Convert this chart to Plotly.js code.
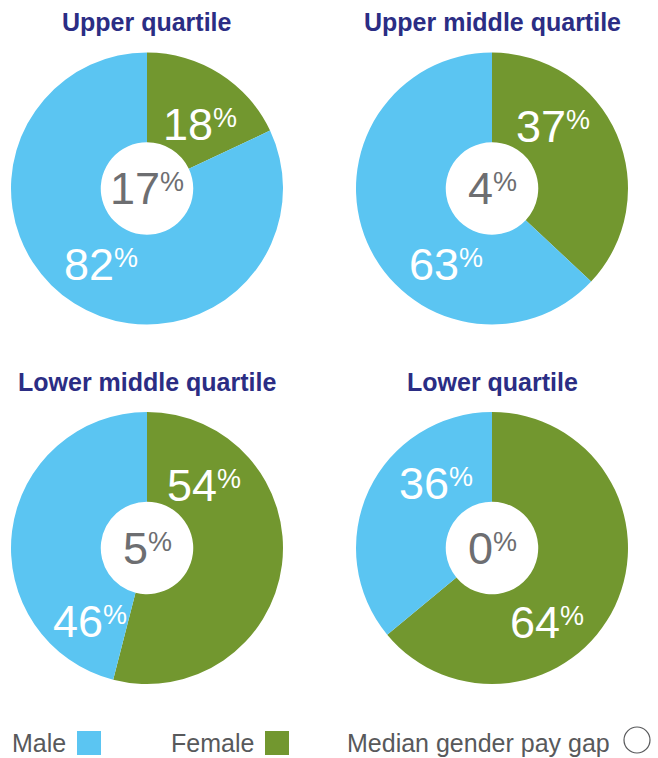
<!DOCTYPE html>
<html>
<head>
<meta charset="utf-8">
<script src="https://cdn.plot.ly/plotly-3.0.1.min.js"></script>
<style>html,body{margin:0;padding:0;background:#fff;}#chart{width:658px;height:758px;}</style>
</head>
<body>
<div id="chart"></div>
<script>
// ---- data ----
const quartiles = ['Upper quartile', 'Upper middle quartile', 'Lower middle quartile', 'Lower quartile'];
const malePct = [82, 63, 46, 36];
const femalePct = [18, 37, 54, 64];
const payGapPct = [17, 4, 5, 0];
const sliceLabels = ['Female', 'Male'];
const legendLabels = ['Male', 'Female', 'Median gender pay gap'];

// ---- styles / layout ----
const W = 658, H = 758;
const MALE = '#5bc5f2', FEMALE = '#72972f', NAVY = '#2b2d84', GREY = '#6d6e71', LEGTXT = '#58595b';
const FONT = '"Liberation Sans", Arial, Helvetica, sans-serif';
// pie boxes in px: [x0, x1, y0(top), y1(bottom)]
const pieBoxes = [[11, 283, 52, 325], [356, 628, 52, 325], [11, 283, 412, 684], [356, 628, 412, 684]];
// label offsets (px) from pie centre
const femaleOff = [[53, -64], [61, -62], [57, -63], [55, 74]];
const maleOff = [[-46, 76], [-46, 76], [-57, 73], [-56, -65]];
const titleOffsetY = 30;

const px2x = v => v / W;
const px2y = v => 1 - v / H;
// digits large, small raised % whose top lines up with the digit tops
const pct = (v, big, small) =>
  '<span style="font-size:' + big + 'px">' + v + '</span><sup><span style="font-size:' + small + 'px">%</span></sup>';
const BASE = 30; // base size controls the superscript raise

const data = [], annotations = [], shapes = [];
quartiles.forEach((q, i) => {
  const b = pieBoxes[i];
  data.push({
    type: 'pie',
    values: [femalePct[i], malePct[i]],
    labels: sliceLabels,
    sort: false,
    direction: 'clockwise',
    rotation: 0,
    hole: 0.34,
    textinfo: 'none',
    hoverinfo: 'label+value',
    showlegend: false,
    marker: {colors: [FEMALE, MALE], line: {width: 0}},
    domain: {x: [px2x(b[0]), px2x(b[1])], y: [px2y(b[3]), px2y(b[2])]}
  });
  const cx = (b[0] + b[1]) / 2, cy = (b[2] + b[3]) / 2;
  // title
  annotations.push({
    xref: 'paper', yref: 'paper', x: px2x(cx), y: px2y(b[2] - titleOffsetY),
    xanchor: 'center', yanchor: 'middle', showarrow: false,
    text: '<b>' + q + '</b>', font: {family: FONT, size: 25, color: NAVY}
  });
  // centre pay gap
  annotations.push({
    xref: 'paper', yref: 'paper', x: px2x(cx), y: px2y(cy),
    xanchor: 'center', yanchor: 'middle', showarrow: false,
    text: pct(payGapPct[i], 45, 27), font: {family: FONT, size: BASE, color: GREY}
  });
  // female label
  annotations.push({
    xref: 'paper', yref: 'paper', x: px2x(cx + femaleOff[i][0]), y: px2y(cy + femaleOff[i][1]),
    xanchor: 'center', yanchor: 'middle', showarrow: false,
    text: pct(femalePct[i], 45, 27), font: {family: FONT, size: BASE, color: '#ffffff'}
  });
  // male label
  annotations.push({
    xref: 'paper', yref: 'paper', x: px2x(cx + maleOff[i][0]), y: px2y(cy + maleOff[i][1]),
    xanchor: 'center', yanchor: 'middle', showarrow: false,
    text: pct(malePct[i], 45, 27), font: {family: FONT, size: BASE, color: '#ffffff'}
  });
});

// legend
const legTextX = [10, 169, 345];
const legBaseY = 743;
legendLabels.forEach((t, i) => {
  annotations.push({
    xref: 'paper', yref: 'paper', x: px2x(legTextX[i]), y: px2y(legBaseY),
    xanchor: 'left', yanchor: 'middle', showarrow: false,
    text: t, font: {family: FONT, size: 25, color: LEGTXT}
  });
});
shapes.push({type: 'rect', xref: 'paper', yref: 'paper', x0: px2x(77), x1: px2x(101), y0: px2y(755), y1: px2y(731), fillcolor: MALE, line: {width: 0}});
shapes.push({type: 'rect', xref: 'paper', yref: 'paper', x0: px2x(265), x1: px2x(289), y0: px2y(755), y1: px2y(731), fillcolor: FEMALE, line: {width: 0}});
shapes.push({type: 'circle', xref: 'paper', yref: 'paper', x0: px2x(624), x1: px2x(650), y0: px2y(753), y1: px2y(727), fillcolor: '#ffffff', line: {color: '#58595b', width: 1.2}});

const layout = {
  width: W, height: H,
  margin: {l: 0, r: 0, t: 0, b: 0},
  paper_bgcolor: '#ffffff',
  plot_bgcolor: '#ffffff',
  font: {family: FONT},
  showlegend: false,
  annotations: annotations,
  shapes: shapes
};
Plotly.newPlot('chart', data, layout, {displayModeBar: false, staticPlot: true});
</script>
</body>
</html>
